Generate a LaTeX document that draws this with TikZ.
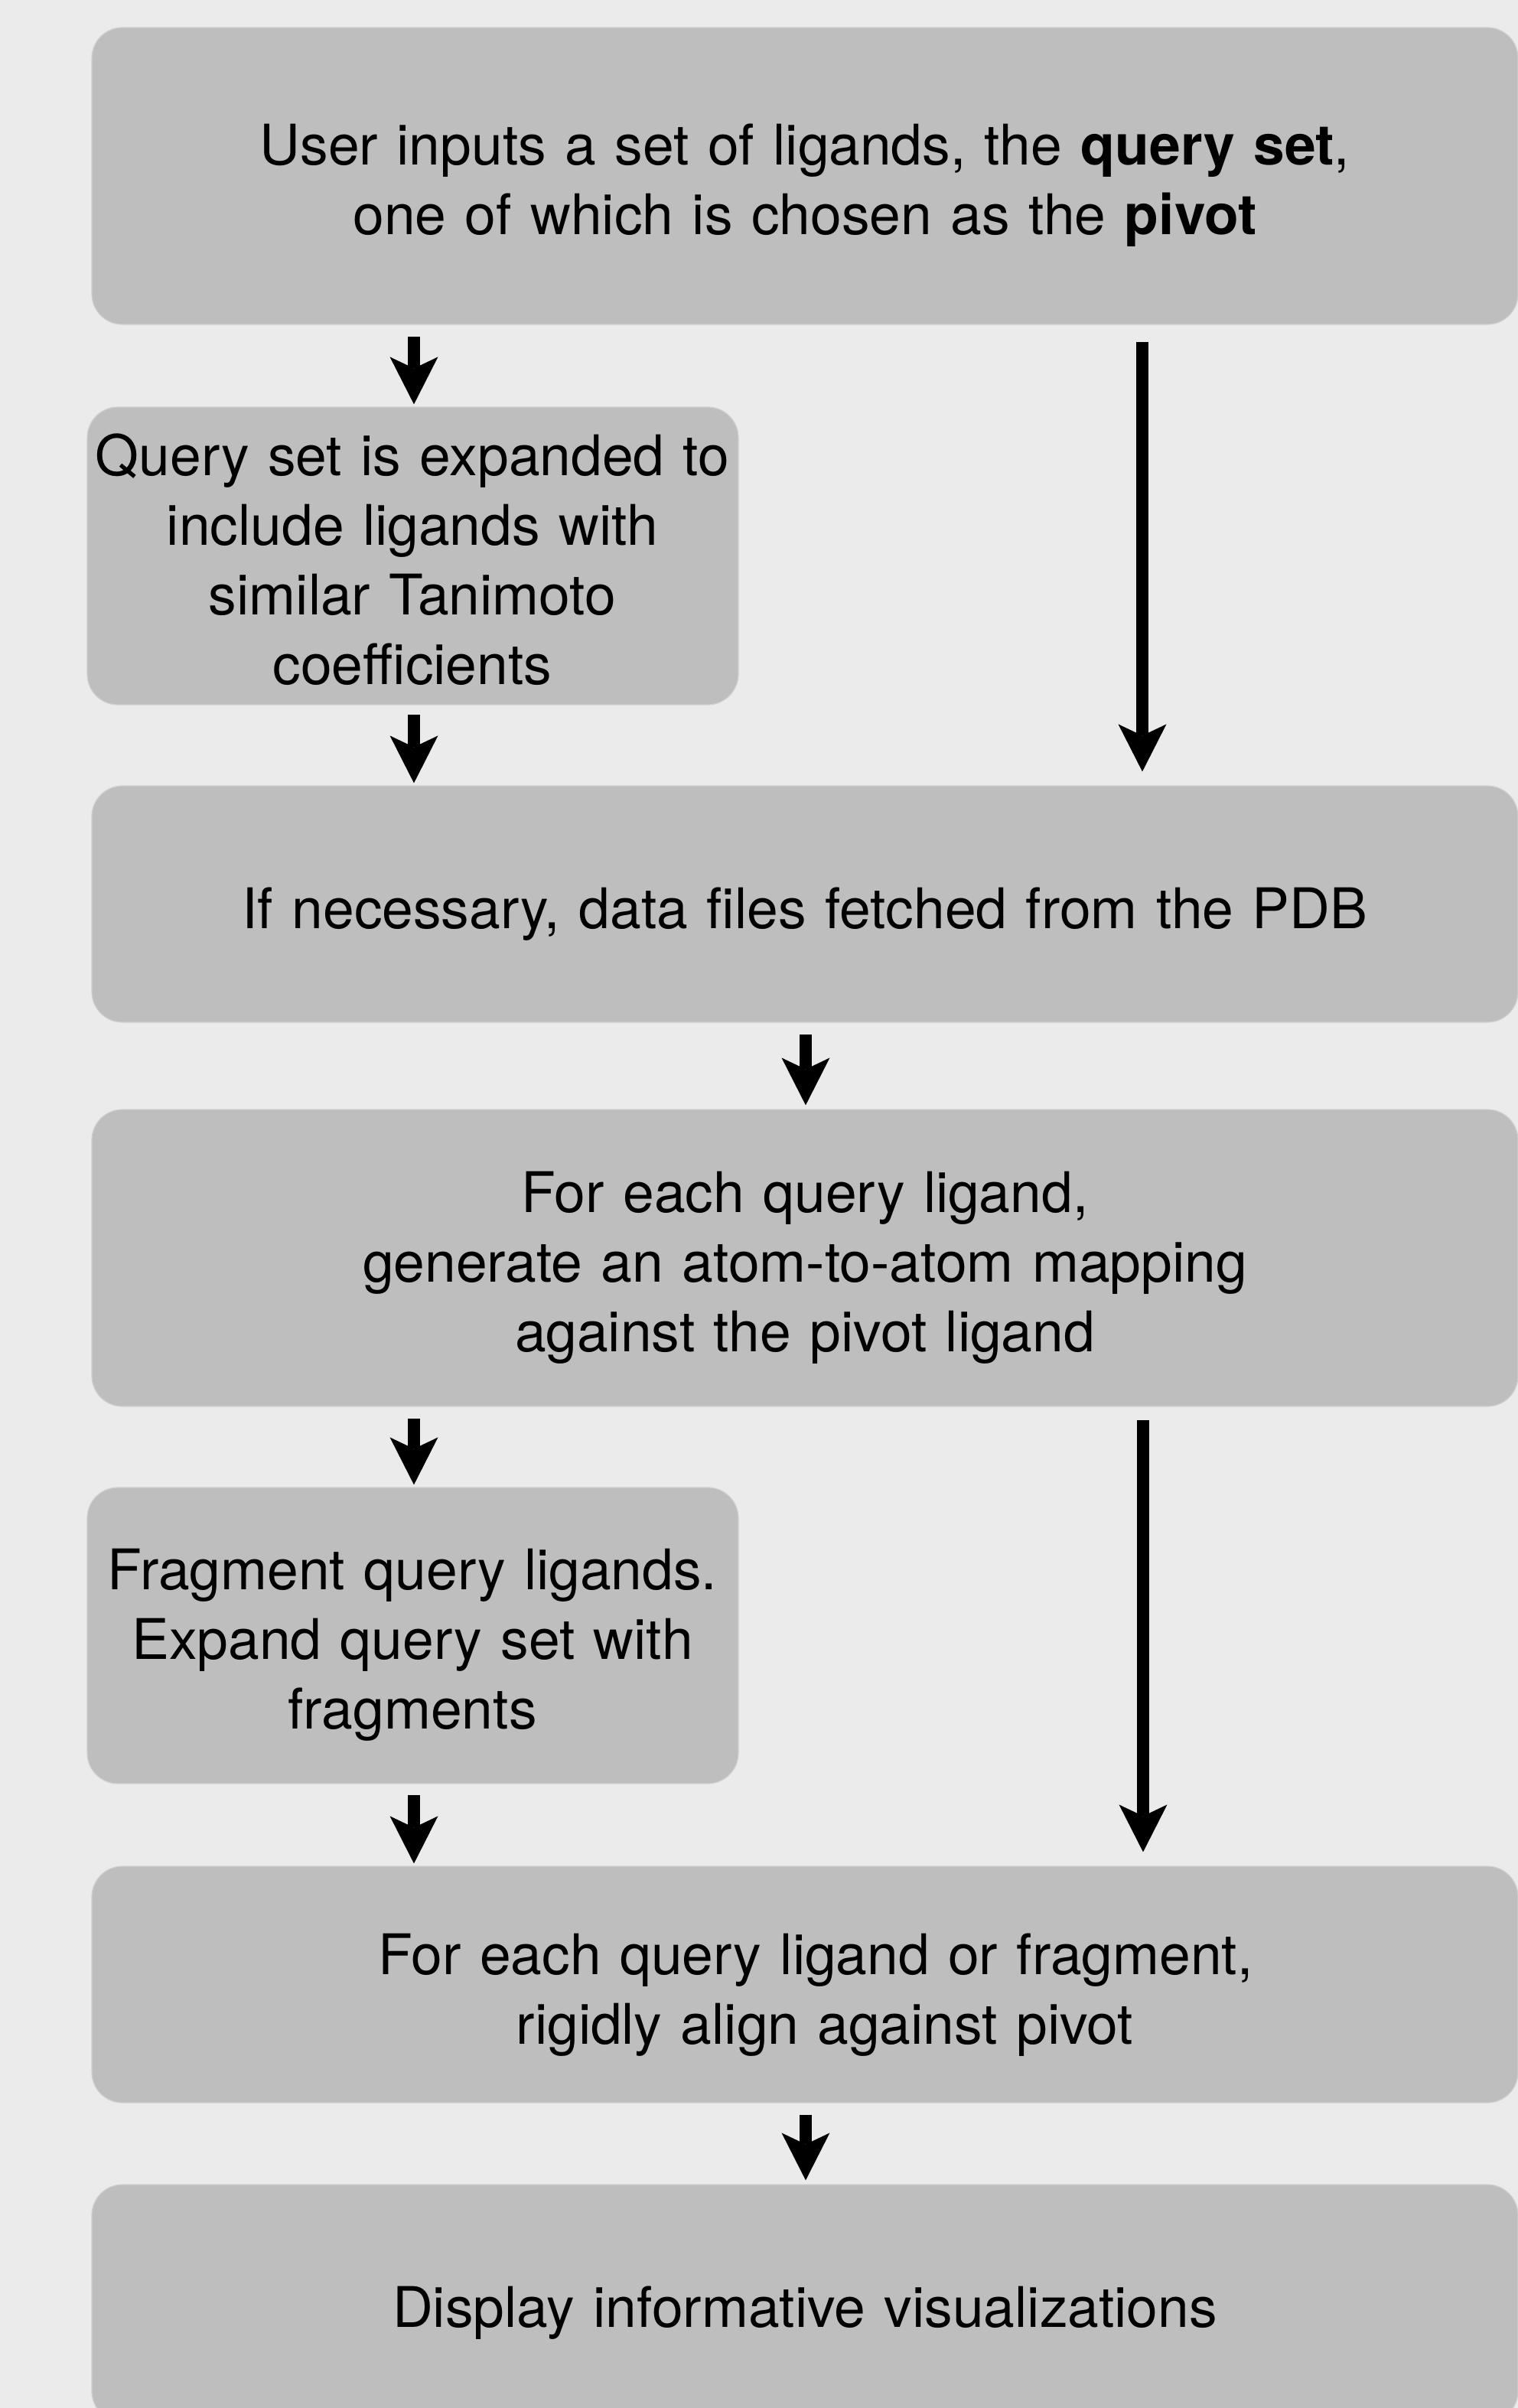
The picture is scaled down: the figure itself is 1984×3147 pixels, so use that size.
\documentclass[tikz,border=0pt]{standalone}
\usepackage{fontspec}
\setmainfont{TeX Gyre Heros}
\usetikzlibrary{arrows.meta,calc}
\definecolor{bgc}{RGB}{235,235,235}
\definecolor{boxc}{RGB}{190,190,190}
\definecolor{edgec}{RGB}{208,208,208}
\tikzset{
  box/.style={rectangle, rounded corners=20pt, fill=boxc, draw=edgec, line width=0.6pt, inner sep=0pt},
  bigbox/.style={box, minimum width=932pt},
  smallbox/.style={box, minimum width=425.5pt},
  txt/.style={anchor=base, align=center, inner sep=0pt, font=\fontsize{36.6pt}{45.5pt}\selectfont},
  bigtxt/.style={txt, text width=900pt},
  smalltxt/.style={txt, text width=424pt},
  arr/.style={line width=8pt, -{Stealth[length=31pt, width=31.5pt, inset=7.5pt, line width=0pt]}}
}
\begin{document}
\begin{tikzpicture}[x=0.5pt, y=-0.5pt]
\clip (0,0) rectangle (1984,3147);
\useasboundingbox (0,0) rectangle (1984,3147);
\fill[bgc] (0,0) rectangle (1984,3147);

% boxes
\node[bigbox, minimum height=194pt] (b1) at (1052,230) {};
\node[smallbox, minimum height=194.5pt] (s1) at (539.5,726.5) {};
\node[bigbox, minimum height=154.5pt] (b2) at (1052,1181.5) {};
\node[bigbox, minimum height=194pt] (b3) at (1052,1644) {};
\node[smallbox, minimum height=193.5pt] (s2) at (539.5,2137.5) {};
\node[bigbox, minimum height=154.5pt] (b4) at (1052,2593.5) {};
\node[bigbox, minimum height=155pt] (b5) at (1052,3010) {};

% texts
\node[bigtxt] (t1) at (1052,215) {User inputs a set of ligands, the \textbf{query set},\\one of which is chosen as the \textbf{pivot}};
\node[smalltxt] (ts1) at (539,621) {Query set is expanded to\\include ligands with\\similar Tanimoto\\coefficients};
\node[bigtxt] (t2) at (1052,1213) {If necessary, data files fetched from the PDB};
\node[bigtxt] (t3) at (1052,1584) {For each query ligand,\\generate an atom-to-atom mapping\\against the pivot ligand};
\node[smalltxt] (ts2) at (539,2077) {Fragment query ligands.\\Expand query set with\\fragments};
\node[bigtxt] (t4) at (1066,2580) {For each query ligand or fragment,\\\hspace*{12pt}rigidly align against pivot};
\node[bigtxt] (t5) at (1052,3041) {Display informative visualizations};

% connectors
\draw[arr] ($(b1.south -| s1.north)+(1.5,15)$) -- ($(s1.north)+(1.5,-3)$);
\draw[arr] ($(s1.south)+(1.5,12)$) -- ($(b2.north -| s1.north)+(1.5,-3)$);
\draw[arr] ($(b1.south)+(441,22)$) -- ($(b2.north)+(441,-18)$);
\draw[arr] ($(b2.south)+(1,15)$) -- ($(b3.north)+(1,-5)$);
\draw[arr] ($(b3.south -| s2.north)+(1.5,15)$) -- ($(s2.north)+(1.5,-3)$);
\draw[arr] ($(s2.south)+(1.5,14)$) -- ($(b4.north -| s2.north)+(1.5,-3)$);
\draw[arr] ($(b3.south)+(442,17)$) -- ($(b4.north)+(442,-18)$);
\draw[arr] ($(b4.south)+(1,15)$) -- ($(b5.north)+(1,-5)$);
\end{tikzpicture}
\end{document}
